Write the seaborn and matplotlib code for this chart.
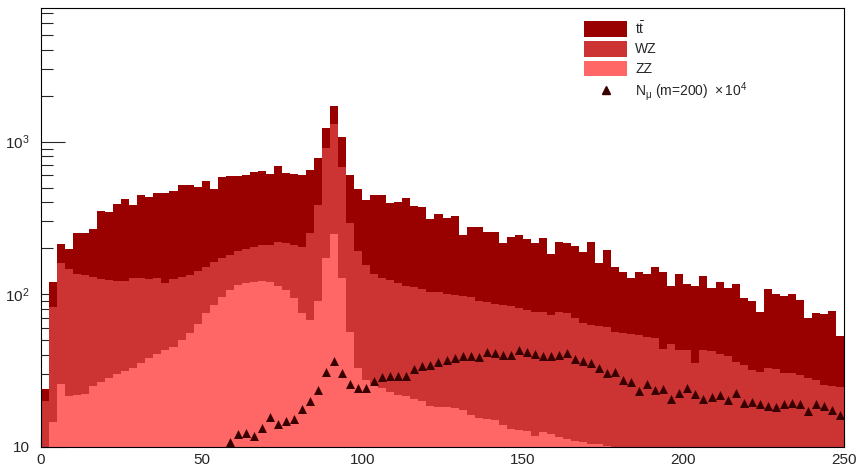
import numpy as np
import pandas as pd
import matplotlib
matplotlib.use("Agg")
import matplotlib.pyplot as plt
import seaborn as sns
from matplotlib.patches import Patch
from matplotlib.lines import Line2D
from matplotlib.ticker import (MultipleLocator, FixedLocator, FixedFormatter,
                               LogLocator, NullFormatter)

# -------------------------
# Data: 100 bins of 2.5 between 0 and 250
# -------------------------
bin_width = 2.5
x_range = (0, 250)

# top of the full stack (ZZ + WZ + ttbar)
stack_total = [24, 121, 212, 198, 253, 253, 267, 350, 345, 390,
               421, 384, 447, 436, 459, 463, 478, 520, 520, 502,
               552, 488, 589, 598, 598, 605, 630, 642, 611, 696,
               621, 611, 605, 654, 778, 1236, 1720, 1066, 605, 492,
               415, 448, 448, 396, 404, 428, 377, 375, 313, 336,
               318, 328, 244, 274, 278, 256, 255, 217, 236, 243,
               231, 216, 233, 185, 219, 218, 207, 188, 221, 161,
               195, 151, 139, 128, 139, 135, 151, 139, 113, 136,
               117, 113, 131, 110, 121, 110, 117, 94, 90, 77,
               108, 101, 97, 100, 92, 69.5, 75, 74.5, 78, 53]

# top of ZZ + WZ
stack_zz_wz = [20, 83, 160, 146, 135, 133, 129, 126, 124, 122,
               122, 128, 127, 126, 128, 119, 126, 129, 133, 143,
               152, 162, 172, 182, 192, 198, 204, 209, 210, 220,
               216, 210, 205, 252, 384, 906, 1300, 686, 292, 192,
               155, 136, 128, 124, 118, 113, 111, 108, 103, 104,
               100, 99, 97, 96, 91, 89, 87, 85, 84, 81,
               79, 77, 77, 73, 77, 76, 69.5, 65, 63, 62,
               61, 57, 56, 55, 54, 52.6, 51.4, 43.7, 47.5, 43.5,
               43, 35.6, 43.5, 42.5, 40.5, 39.2, 36, 34.5, 32, 31,
               33, 32.5, 30.5, 30.5, 29.5, 28.5, 27.5, 25.5, 25.2, 24.7]

# ZZ alone
stack_zz = [8, 14.6, 26, 21.5, 22, 22.3, 25, 26.5, 28.5, 30,
            31.5, 33, 35.5, 38, 40.5, 43, 45.3, 50, 56, 64,
            75, 85, 96, 107, 115, 118, 121, 122, 120, 114,
            106, 95, 76, 68, 90, 172, 247, 128, 57, 33,
            27.4, 26, 24.5, 23, 22, 21.5, 20.5, 20.1, 18.5, 18.3,
            18.2, 17.9, 17.4, 16.1, 15.4, 15.2, 15, 13.9, 13.2, 13,
            12.8, 11.8, 12.6, 12.2, 11.6, 11.2, 11, 10.8, 10.5, 10.4,
            10.1, 10, 9.8, 9.7, 9.6, 9.5, 9.4, 9.3, 9.2, 9.1,
            9, 9, 9, 9, 9, 9, 9, 9, 9, 9,
            9, 9, 9, 9, 9, 9, 9, 9, 9, 9]

# N_mu (m=200) x 1e4, from bin 23 onwards
nmu_first_bin = 23
nmu = [10.8, 12.1, 12.3, 11.8, 13.3, 15.8, 14.1, 14.8, 15.3, 17.8,
       20.1, 23.5, 31.2, 36.5, 30.4, 25.9, 24.4, 24.5, 27, 28.6,
       29.1, 29.1, 29.1, 32.2, 33.8, 34.6, 36, 37.2, 38.3, 39.6,
       39.2, 39, 41.7, 41, 40.2, 40.2, 42.9, 41.7, 40.7, 39.7,
       39.6, 40.2, 41.3, 37.6, 36.7, 35.3, 32.7, 30.5, 31, 27.6,
       26.6, 23.3, 26, 23.7, 23.8, 20.6, 22.7, 24.5, 22.2, 20.6,
       21.1, 21.9, 20.3, 22.5, 19.3, 19.6, 19.2, 18.6, 18.3, 19.1,
       19.4, 19, 17.2, 19.2, 18.6, 17.4, 16.2]

labels = [r"$t\bar{t}$", "WZ", "ZZ", r"N$_{\mu}$ (m=200)  $\times\,10^{4}$"]
colors = ["#990000", "#cc3333", "#ff6666"]
marker_color = "#3a0000"

# -------------------------
# Style
# -------------------------
sns.set_style("white")
plt.rcParams["font.family"] = ["Liberation Sans", "DejaVu Sans"]
plt.rcParams["mathtext.fontset"] = "custom"
plt.rcParams["mathtext.rm"] = "Liberation Sans"
plt.rcParams["mathtext.it"] = "Liberation Sans:italic"
plt.rcParams["mathtext.default"] = "regular"

fig = plt.figure(figsize=(8.58, 4.67), dpi=100)
ax = fig.add_axes([41 / 858, 20 / 467, 803 / 858, 439 / 467])

n_bins = len(stack_total)
centres = x_range[0] + bin_width * (np.arange(n_bins) + 0.5)

# stacked histogram, back layer first
for values, color in zip([stack_total, stack_zz_wz, stack_zz], colors):
    df = pd.DataFrame({"x": centres, "w": values})
    sns.histplot(data=df, x="x", weights="w", binwidth=bin_width,
                 binrange=x_range, element="step", fill=True, color=color,
                 alpha=1, linewidth=0, ax=ax)

df_mu = pd.DataFrame({"x": centres[nmu_first_bin:], "y": nmu})
sns.scatterplot(data=df_mu, x="x", y="y", marker="^", s=42,
                color=marker_color, linewidth=0, ax=ax, zorder=5)

ax.set_yscale("log")
ax.set_xlim(*x_range)
ax.set_ylim(10, 7500)
ax.set_xlabel("")
ax.set_ylabel("")

# -------------------------
# Axes & ticks (ROOT look)
# -------------------------
ax.xaxis.set_major_locator(MultipleLocator(50))
ax.xaxis.set_minor_locator(MultipleLocator(10))
ax.yaxis.set_major_locator(FixedLocator([10, 100, 1000]))
ax.yaxis.set_major_formatter(FixedFormatter(["10", r"$10^{2}$", r"$10^{3}$"]))
ax.yaxis.set_minor_locator(LogLocator(base=10, subs=range(2, 10)))
ax.yaxis.set_minor_formatter(NullFormatter())

ax.tick_params(axis="y", which="major", direction="in", length=17, width=0.8,
               pad=8, labelsize=11, left=True)
ax.tick_params(axis="y", which="minor", direction="in", length=8.6, width=0.8,
               left=True)
ax.tick_params(axis="x", which="major", direction="in", length=8.6, width=0.8,
               pad=4, labelsize=11, bottom=True)
ax.tick_params(axis="x", which="minor", direction="in", length=4.3, width=0.8,
               bottom=True)

for spine in ax.spines.values():
    spine.set_visible(True)
    spine.set_color("black")
    spine.set_linewidth(0.8)

# -------------------------
# Legend
# -------------------------
handles = [Patch(facecolor=c, edgecolor="none") for c in colors]
handles.append(Line2D([], [], marker="^", linestyle="none", color=marker_color,
                      markersize=6))
fig.legend(handles, labels, loc="upper left",
           bbox_to_anchor=(584 / 858, 1 - 20 / 467),
           bbox_transform=fig.transFigure, frameon=False, borderpad=0,
           borderaxespad=0, handlelength=3.1, handleheight=1.35,
           labelspacing=0.3, handletextpad=0.6, fontsize=10)

fig.savefig("out.png", dpi=100)
